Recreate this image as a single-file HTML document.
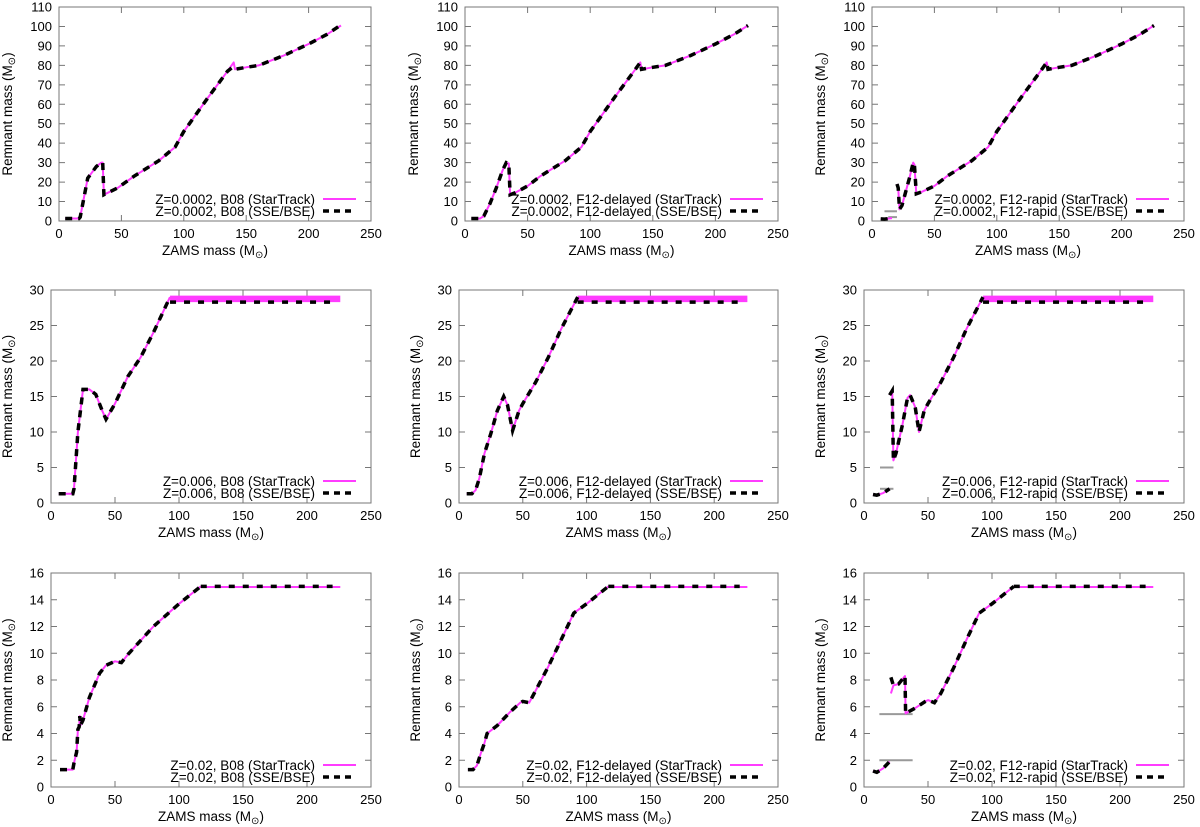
<!DOCTYPE html>
<html><head><meta charset="utf-8"><style>
html,body{margin:0;padding:0;background:#fff;}
svg{display:block;font-family:"Liberation Sans",sans-serif;}
</style></head><body>
<svg id="fig" width="1200" height="827" viewBox="0 0 1200 827"></svg>
<script>
// ---- data (ZAMS mass, remnant mass) ----
const xTicks = [0,50,100,150,200,250];
const yTicksRow1 = [0,10,20,30,40,50,60,70,80,90,100,110];
const yTicksRow2 = [0,5,10,15,20,25,30];
const yTicksRow3 = [0,2,4,6,8,10,12,14,16];

const b1X = [5,16,17,23,30,34,35,36,47,60,80,93,100,120,135,140,141,150,160,180,200,215,226];
const b1Y = [1.3,1.3,2,22,28,30,30,13.5,17,23,31,38,46,64,77,81.5,78,79,80,85,91,96,100.5];
const b1SX = [5,16,17,23,30,34,35,36,47,60,80,93,100,120,135,139,141,150,160,180,200,215,224];
const b1SY = [1.3,1.3,2,22,28,30,30,13.5,17,23,31,38,46,64,77,79,78,79,80,85,91,96,100];

const d1X = [5,12,15,20,25,30,33,35,36,40,50,60,80,93,100,120,135,140,141,150,160,180,200,215,226];
const d1Y = [1.3,1.3,2.5,9,17,26,30,29.5,13.5,14.5,18,23,31,38,46,64,77,81.5,78,79,80,85,91,96,100.5];

const r1aX = [7,10,16]; const r1aY = [1.1,1.0,1.5];
const r1bX = [20,21,22,24,30,33,34,35.5,40,50,60,80,93,100,120,135,140,141,150,160,180,200,215,226];
const r1bY = [19,17,6,8,22,30,29,14,15,18,23,31,38,46,64,77,81.5,78,79,80,85,91,96,100.5];

const b2X = [6,17,18,21,25,30,35,40,43,50,60,70,80,93];
const b2Y = [1.3,1.3,2,10,16,16,15.3,13,11.8,14,17.8,20.5,24,29];
const d2X = [6,10,13,16,20,25,30,35,38,42,47,50,60,70,80,93];
const d2Y = [1.3,1.3,1.8,3.5,7,9.8,13,15,13.8,10.2,13,14,17,20.5,24.5,29];
const r2aX = [7,10,15,20]; const r2aY = [1.2,1.1,1.4,2];
const r2bX = [20,22,23,25,30,34,36,40,43,47,50,60,70,80,93];
const r2bY = [15.2,15.8,6,7,11,14.8,15.2,13.5,10,13,14,17,20.5,24.5,29];

const b3X = [7,17,18,20,21,22,22.5,23,25,30,38,43,50,55,60,80,100,117];
const b3Y = [1.3,1.3,1.8,2.6,4.3,4.5,5.3,4.6,5,6.7,8.5,9.1,9.4,9.3,9.9,12,13.7,15];
const d3X = [7,11,14,17,20,22,30,40,48,50,55,60,70,80,90,100,117];
const d3Y = [1.3,1.3,1.6,2.5,3.3,4,4.6,5.6,6.3,6.4,6.3,7.2,9,11,13,13.7,15];
const r3aX = [7,10,15,20]; const r3aY = [1.2,1.1,1.4,1.9];
const r3bX = [21,23,27,32,32.5,40,48,50,55,60,70,80,90,100,117];
const r3bY = [7,7.6,7.7,8.3,5.5,5.9,6.4,6.5,6.3,7,8.9,11,13,13.7,15];
const r3bSX = [21,23,27,32,32.5,40,48,50,55,60,70,80,90,100,117];
const r3bSY = [8.2,7.6,7.7,8.3,5.5,5.9,6.4,6.5,6.3,7,8.9,11,13,13.7,15];

// plateau: [xStart, xEndStar, yStarLow, yStarHigh, xEndSse, ySse]
const plateau2 = [93,226,28.3,29.2,220,28.3];
const plateau3 = [117,226,14.9,15.0,220,15.0];
// gray reference lines: [x0,x1,y]
const gray1 = [[10,20,5],[13,20,2]];
const gray2 = [[12.5,23,5],[12.5,23,2]];
const gray3 = [[12,38,5.45],[12,38,2]];

const panels = [
 {z:"0.0002",m:"B08",L:59,R:371,T:7,B:221,ymax:110,yt:yTicksRow1,ys:[[b1X,b1Y]],yss:[[b1SX,b1SY]],pl:null,gr:null,tx:52},
 {z:"0.0002",m:"F12-delayed",L:465,R:778,T:7,B:221,ymax:110,yt:yTicksRow1,ys:[[d1X,d1Y]],yss:[[d1X,d1Y]],pl:null,gr:null,tx:52},
 {z:"0.0002",m:"F12-rapid",L:872,R:1184,T:7,B:221,ymax:110,yt:yTicksRow1,ys:[[r1aX,r1aY],[r1bX,r1bY]],yss:[[r1aX,r1aY],[r1bX,r1bY]],pl:null,gr:gray1,tx:52},
 {z:"0.006",m:"B08",L:51,R:371,T:290,B:503,ymax:30,yt:yTicksRow2,ys:[[b2X,b2Y]],yss:[[b2X,b2Y]],pl:plateau2,gr:null,tx:44},
 {z:"0.006",m:"F12-delayed",L:459,R:778,T:290,B:503,ymax:30,yt:yTicksRow2,ys:[[d2X,d2Y]],yss:[[d2X,d2Y]],pl:plateau2,gr:null,tx:44},
 {z:"0.006",m:"F12-rapid",L:864,R:1184,T:290,B:503,ymax:30,yt:yTicksRow2,ys:[[r2aX,r2aY],[r2bX,r2bY]],yss:[[r2aX,r2aY],[r2bX,r2bY]],pl:plateau2,gr:gray2,tx:44},
 {z:"0.02",m:"B08",L:51,R:371,T:573,B:787,ymax:16,yt:yTicksRow3,ys:[[b3X,b3Y]],yss:[[b3X,b3Y]],pl:plateau3,gr:null,tx:44},
 {z:"0.02",m:"F12-delayed",L:459,R:778,T:573,B:787,ymax:16,yt:yTicksRow3,ys:[[d3X,d3Y]],yss:[[d3X,d3Y]],pl:plateau3,gr:null,tx:44},
 {z:"0.02",m:"F12-rapid",L:864,R:1184,T:573,B:787,ymax:16,yt:yTicksRow3,ys:[[r3aX,r3aY],[r3bX,r3bY]],yss:[[r3aX,r3aY],[r3bSX,r3bSY]],pl:plateau3,gr:gray3,tx:44}
];

const NS="http://www.w3.org/2000/svg";
const svg=document.getElementById('fig');
function mk(tag,attrs,parent){const e=document.createElementNS(NS,tag);for(const k in attrs)e.setAttribute(k,attrs[k]);(parent||svg).appendChild(e);return e;}
const MAG="#ff3cff";

panels.forEach((p,i)=>{
  const g=mk('g',{});
  
  
  const sx=v=>p.L+(v/250)*(p.R-p.L);
  const sy=v=>p.B-(v/p.ymax)*(p.B-p.T);
  // ticks
  xTicks.forEach(t=>{
    const x=sx(t);
    const tk=mk('path',{d:`M${x},${p.B}v-6M${x},${p.T}v6`,stroke:'#777','stroke-width':1},g);
    
    
    const lb=mk('text',{x:x,y:p.B+17,'text-anchor':'middle','font-size':13,fill:'#000'},g);
    lb.textContent=t;
    
    
  });
  p.yt.forEach(t=>{
    const y=sy(t);
    const tk=mk('path',{d:`M${p.L},${y}h6M${p.R},${y}h-6`,stroke:'#777','stroke-width':1},g);
    
    
    const lb=mk('text',{x:p.L-7,y:y+4.5,'text-anchor':'end','font-size':13,fill:'#000'},g);
    lb.textContent=t;
    
    
  });
  // frame
  const fr=mk('rect',{x:p.L,y:p.T,width:p.R-p.L,height:p.B-p.T,fill:'none',stroke:'#777','stroke-width':1},g);
  
  
  // axis titles
  const xt=mk('text',{x:(p.L+p.R)/2,y:p.B+34,'text-anchor':'middle','font-size':13.5,fill:'#000'},g);
  xt.innerHTML='ZAMS mass (M<tspan font-size="10" dy="3">⊙</tspan><tspan dy="-3">)</tspan>';
  
  
  const cx=p.L-p.tx, cy=(p.T+p.B)/2;
  const yt=mk('text',{x:cx,y:cy,'text-anchor':'middle','font-size':13.5,fill:'#000',transform:`rotate(-90 ${cx} ${cy}) translate(0 5)`},g);
  yt.innerHTML='Remnant mass (M<tspan font-size="10" dy="3">⊙</tspan><tspan dy="-3">)</tspan>';
  
  
  // gray lines
  if(p.gr){p.gr.forEach(r=>{
    const l=mk('line',{x1:sx(r[0]),x2:sx(r[1]),y1:sy(r[2]),y2:sy(r[2]),stroke:'#999','stroke-width':2},g);
    
    
  });}
  const pts=(X,Y)=>X.map((x,k)=>sx(x).toFixed(1)+','+sy(Y[k]).toFixed(1)).join(' ');
  // StarTrack
  p.ys.forEach(s=>{
    const l=mk('polyline',{points:pts(s[0],s[1]),fill:'none',stroke:MAG,'stroke-width':2,'stroke-linejoin':'round'},g);
    
    
  });
  if(p.pl){
    const q=p.pl, ym=(q[2]+q[3])/2, w=Math.max(2,Math.abs(sy(q[2])-sy(q[3])));
    const l=mk('line',{x1:sx(q[0]),x2:sx(q[1]),y1:sy(ym),y2:sy(ym),stroke:MAG,'stroke-width':w},g);
    
    
  }
  // SSE/BSE
  p.yss.forEach(s=>{
    const l=mk('polyline',{points:pts(s[0],s[1]),fill:'none',stroke:'#000','stroke-width':3.5,'stroke-dasharray':'7,6'},g);
    
    
  });
  if(p.pl){
    const q=p.pl;
    const l=mk('line',{x1:sx(q[0]),x2:sx(q[4]),y1:sy(q[5]),y2:sy(q[5]),stroke:'#000','stroke-width':3.5,'stroke-dasharray':'6,8'},g);
    
    
  }
  // legend
  const lg=mk('g',{},g);
  
  
  const t1=mk('text',{x:p.R-56,y:p.B-17,'text-anchor':'end','font-size':13.5,fill:'#000'},lg);
  t1.textContent=`Z=${p.z}, ${p.m} (StarTrack)`;
  
  
  const s1=mk('line',{x1:p.R-48,x2:p.R-15,y1:p.B-22,y2:p.B-22,stroke:MAG,'stroke-width':2},lg);
  
  
  const t2=mk('text',{x:p.R-56,y:p.B-5,'text-anchor':'end','font-size':13.5,fill:'#000'},lg);
  t2.textContent=`Z=${p.z}, ${p.m} (SSE/BSE)`;
  
  
  const s2=mk('line',{x1:p.R-48,x2:p.R-15,y1:p.B-10,y2:p.B-10,stroke:'#000','stroke-width':3.5,'stroke-dasharray':'6,5'},lg);
  
  
});
</script>
</body></html>
